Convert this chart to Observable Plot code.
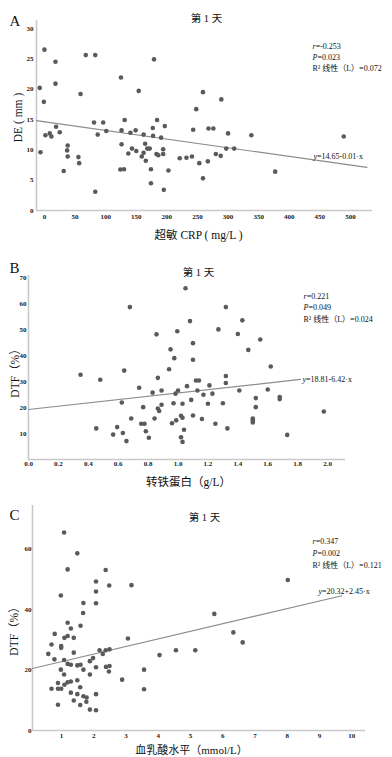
<!DOCTYPE html>
<html><head><meta charset="utf-8">
<script src="https://cdn.jsdelivr.net/npm/d3@7"></script>
<script src="https://cdn.jsdelivr.net/npm/@observablehq/plot@0.6"></script>
<style>
body{margin:0;background:#fff;}
#chart{width:392px;height:757px;position:relative;overflow:hidden;background:#fff;}
#chart svg{display:block;}
</style></head><body><div id="chart"></div>
<script>
// ---------- Panel A: 超敏 CRP vs DE ----------
const aX = [-7.7,0,-1,18,18,59,67.5,83,125,154,179,81,96,131,184,248,19,259,289,243,268,276,-6.5,1.6,8.7,11.4,25,31.5,38,37,38,55.5,56.7,87,83,101,126,126,124,130,137,140.5,143,149,150,159,162,162,164.5,165.6,168,172,174,174,177,177.5,183,186,190.6,194,194,196.6,195,202.6,221,232,241,253,300,338,489,267,280,288,297,310,259,377];
const aY = [20.2,26.5,17.9,24.5,20.9,19.2,25.6,25.6,21.9,19.7,24.9,14.5,14.5,14.9,14.9,16.7,13.8,19.5,18.3,13.3,13.5,13.5,9.6,12.4,12.7,12.2,12.9,6.5,10.7,9.9,8.9,8.8,7.8,12.5,3.1,13.1,13.2,10.9,6.75,6.8,9.4,12.8,10.2,13.2,9.8,8.9,12.5,9.5,11.0,8.2,10.2,10.2,6.8,4.5,13.6,12.3,9.3,9.1,12.0,10.1,9.3,13.9,3.4,6.6,8.6,8.7,8.9,7.8,12.7,12.4,12.2,8.1,9.3,9.0,10.2,10.2,5.3,6.4];
const aFitX = [-13, 527];
const aFitY = [14.8, 7.1];
const aXTicks = [0,50,100,150,200,250,300,350,400,450,500];
const aYTicks = [0,5,10,15,20,25,30];
const aTexts = {letter:"A", title:"第 1 天", r:"r=-0.253", p:"P=0.023", r2:"R² 线性（L）=0.072", eq:"y=14.65-0.01·x", xlabel:"超敏 CRP ( mg/L )", ylabel:"DE ( mm )"};

// ---------- Panel B: 转铁蛋白 vs DTF ----------
const bX = [0.678,1.05,1.08,0.856,0.995,1.10,0.95,0.975,1.10,0.94,0.64,1.32,1.43,1.27,1.40,1.55,1.47,1.62,0.348,0.48,0.74,0.83,0.865,0.89,0.983,1.00,1.06,1.12,1.14,1.13,0.624,0.767,0.865,0.874,0.89,0.97,1.03,1.088,0.687,0.754,0.776,0.843,0.988,0.96,1.02,1.03,1.10,0.453,0.593,0.566,0.631,0.655,0.785,0.805,1.04,1.02,1.03,1.32,1.32,1.21,1.41,1.60,1.23,1.17,1.20,1.30,1.52,1.52,1.68,1.68,1.16,1.25,1.33,1.50,1.50,1.50,1.975,1.73];
const bY = [58.8,66.1,53.4,48.3,49.5,44.9,42.5,39.1,38.5,34.8,34.3,58.8,53.7,50.2,48.4,46.3,42.3,35.9,32.7,30.8,27.7,25.8,31.5,26.6,25.4,26.6,28.3,30.5,30.5,26.6,22.0,20.2,19.7,18.7,21.1,21.7,21.5,23.0,15.8,13.8,13.8,15.8,15.1,14.0,16.9,16.1,17.0,12.0,12.5,9.6,10.2,7.1,10.9,8.4,11.5,8.6,6.8,32.2,29.5,28.6,26.6,27.0,25.4,25.0,21.5,21.7,23.7,20.2,24.1,23.3,15.6,13.8,12.0,15.8,15.1,14.3,18.5,9.5];
const bFitX = [0, 1.82];
const bFitY = [19.3, 30.9];
const bXTicks = [0,0.2,0.4,0.6,0.8,1.0,1.2,1.4,1.6,1.8,2.0];
const bYTicks = [10,20,30,40,50,60,70];
const bTexts = {letter:"B", title:"第 1 天", r:"r=0.221", p:"P=0.049", r2:"R² 线性（L）=0.024", eq:"y=18.81-6.42·x", xlabel:"转铁蛋白（g/L）", ylabel:"DTF（%）"};

// ---------- Panel C: 血乳酸水平 vs DTF ----------
const cX = [1.08,1.49,1.19,2.37,2.07,2.48,3.17,2.07,0.98,1.68,2.07,1.67,1.19,1.59,8.02,5.74,1.29,0.79,1.09,1.19,1.38,0.69,0.99,0.99,3.06,0.59,0.78,1.08,1.38,1.19,1.29,1.49,1.59,1.88,1.98,2.18,2.28,2.37,2.49,2.07,2.38,2.49,2.47,1.68,0.98,1.08,1.88,3.56,2.88,0.89,1.19,1.29,1.49,1.09,0.69,0.89,0.99,1.58,3.56,1.29,1.49,1.68,1.78,2.07,1.38,1.77,0.89,1.58,1.88,2.07,4.04,4.55,5.15,6.33,6.62];
const cY = [65.4,58.5,53.2,53.0,49.2,47.9,48.0,45.9,44.6,42.1,42.0,38.8,35.6,34.6,49.7,38.5,33.7,31.9,30.6,31.2,30.6,28.4,27.9,27.3,30.4,25.3,23.5,23.3,25.7,22.0,21.7,21.5,21.7,22.9,23.9,26.5,25.3,26.5,26.8,20.9,21.0,21.3,19.5,20.1,20.1,18.5,18.5,20.1,16.8,15.7,15.9,16.2,16.6,15.1,13.8,13.8,13.8,14.3,13.6,12.5,12.0,11.3,10.9,12.0,9.9,9.5,8.5,8.4,6.9,6.7,24.9,26.5,26.5,32.4,29.1];
const cFitX = [0.1, 9.7];
const cFitY = [20.5, 44.5];
const cXTicks = [1,2,3,4,5,6,7,8,9,10];
const cYTicks = [0,20,40,60];
const cTexts = {letter:"C", title:"第 1 天", r:"r=0.347", p:"P=0.002", r2:"R² 线性（L）=0.121", eq:"y=20.32+2.45·x", xlabel:"血乳酸水平（mmol/L）", ylabel:"DTF（%）"};

const FONT = '"Liberation Serif","DejaVu Serif","Noto Sans CJK SC",serif';

function zip(xs, ys){ return xs.map((x,i)=>({x, y: ys[i]})); }

function panel(cfg){
  const {xs, ys, fitX, fitY, xTicks, yTicks, xFmt, texts, L} = cfg;
  const {ml, mr, mt, mb, h} = L;
  const at = (ax, ay) => ({frameAnchor:"top-left", dx: ax - ml, dy: ay - mt});
  const T = (s, p, o) => Plot.text([s], {text: d => d, ...at(p[0], p[1]), fill:"#111", ...o});
  const svg = Plot.plot({
    width: 392, height: h,
    marginLeft: ml, marginRight: mr, marginTop: mt, marginBottom: mb,
    style: {fontFamily: FONT, background: "#fff", overflow: "visible"},
    x: {domain: L.xDomain, axis: null, label: null},
    y: {domain: L.yDomain, axis: null, label: null},
    marks: [
      Plot.ruleX([L.xDomain[0]], {stroke: "#c9c9c9", strokeWidth: 1.6}),
      Plot.ruleY([L.yDomain[0]], {stroke: "#c9c9c9", strokeWidth: 1.6}),
      Plot.axisX(xTicks, {tickSize: 0, tickPadding: L.xPad, fontSize: 7, fontWeight: "bold", tickFormat: xFmt, label: null, fill: "#222"}),
      Plot.axisY(yTicks, {tickSize: 0, tickPadding: L.yPad, fontSize: 7, fontWeight: "bold", label: null, fill: "#222"}),
      Plot.line(zip(fitX, fitY), {x: "x", y: "y", stroke: "#8c8c8c", strokeWidth: 1.1}),
      Plot.dot(zip(xs, ys), {x: "x", y: "y", r: 2.3, fill: "#5a5a5a", stroke: "none"}),
      T(texts.letter, L.letter, {fontSize: 15, textAnchor: "start"}),
      T(texts.title, L.title, {fontSize: 10.5, textAnchor: "middle"}),
      T(texts.r, L.stats[0], {fontSize: 8, textAnchor: "start"}),
      T(texts.p, L.stats[1], {fontSize: 8, textAnchor: "start"}),
      T(texts.r2, L.stats[2], {fontSize: 8, textAnchor: "start"}),
      T(texts.eq, L.eq, {fontSize: 8, textAnchor: "start"}),
      T(texts.xlabel, L.xlabel, {fontSize: L.xlabelSize || 11.5, textAnchor: "middle"}),
      T(texts.ylabel, L.ylabel, {fontSize: 11.5, textAnchor: "middle", rotate: -90})
    ]
  });
  // italicize leading statistic letters (r, P, y)
  d3.select(svg).selectAll("text").each(function(){
    const t = this.textContent;
    const m = /^([rPy])(=.*)$/.exec(t);
    if (m && this.childElementCount === 0) {
      this.textContent = "";
      d3.select(this).append("tspan").attr("font-style","italic").text(m[1]);
      d3.select(this).append("tspan").text(m[2]);
    }
  });
  return svg;
}

const chart = document.getElementById("chart");
chart.append(panel({
  xs: aX, ys: aY, fitX: aFitX, fitY: aFitY, xTicks: aXTicks, yTicks: aYTicks, xFmt: d3.format("d"), texts: aTexts,
  L: {h: 245, ml: 36, mr: 20, mt: 20, mb: 35, xDomain: [-13, 536], yDomain: [0, 31.3], xPad: 3.5, yPad: 3,
      letter: [9, 15], title: [206, 14], stats: [[312, 43], [312, 54], [312, 65]], eq: [313, 153],
      xlabel: [198, 230], ylabel: [13, 117]}
}));
chart.append(panel({
  xs: bX, ys: bY, fitX: bFitX, fitY: bFitY, xTicks: bXTicks, yTicks: bYTicks, xFmt: d3.format(".1f"), texts: bTexts,
  L: {h: 245, ml: 28, mr: 47, mt: 30, mb: 31, xDomain: [0, 2.12], yDomain: [0, 71], xPad: 1.5, yPad: 2,
      letter: [9, 17], title: [198, 23], stats: [[303, 48], [303, 59], [303, 71]], eq: [302, 131],
      xlabel: [188, 232], ylabel: [10, 125]}
}));
chart.append(panel({
  xs: cX, ys: cY, fitX: cFitX, fitY: cFitY, xTicks: cXTicks, yTicks: cYTicks, xFmt: d3.format("d"), texts: cTexts,
  L: {h: 267, ml: 32, mr: 27, mt: 15, mb: 27, xDomain: [0.1, 10.43], yDomain: [0, 74.3], xPad: 2.5, yPad: 1,
      letter: [9, 19], title: [204, 23], stats: [[312, 48], [312, 60], [312, 72]], eq: [318, 98],
      xlabel: [191, 256], xlabelSize: 11, ylabel: [9, 138]}
}));
</script>
</body></html>
